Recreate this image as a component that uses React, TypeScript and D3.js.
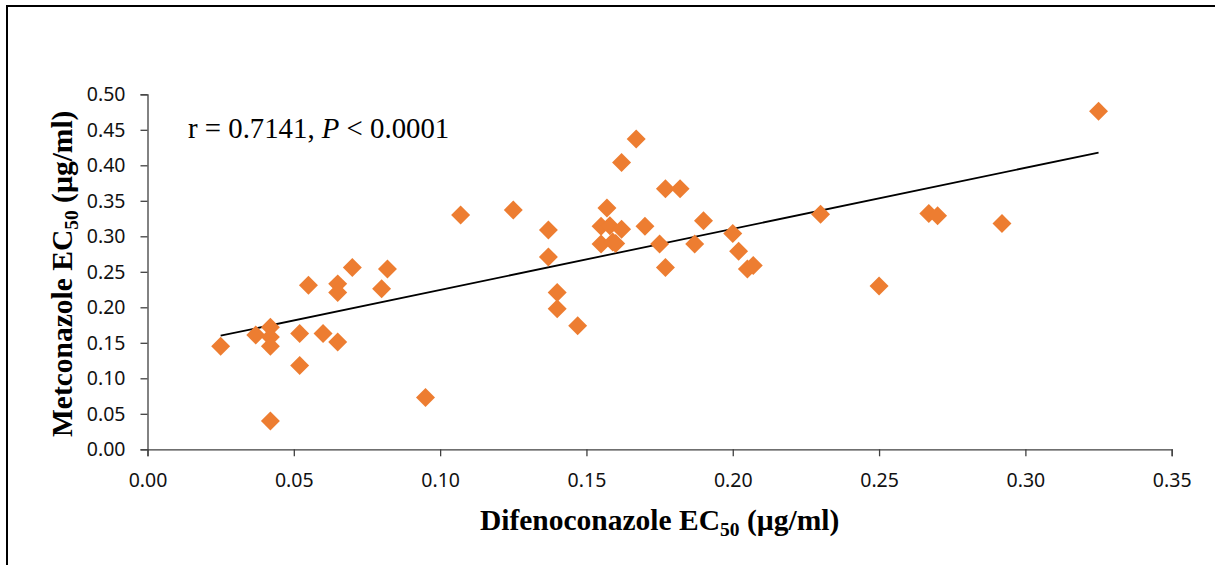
import React, { useEffect, useRef } from 'react';
import * as d3 from 'd3';

// Difenoconazole EC50 (x) vs Metconazole EC50 (y)
const difeno = [
  0.025, 0.037, 0.042, 0.042, 0.042, 0.042, 0.052, 0.052, 0.055, 0.060,
  0.065, 0.065, 0.065, 0.070, 0.080, 0.082, 0.095, 0.107, 0.125, 0.137,
  0.137, 0.140, 0.140, 0.147, 0.155, 0.155, 0.157, 0.158, 0.162, 0.159,
  0.160, 0.162, 0.167, 0.170, 0.175, 0.177, 0.177, 0.182, 0.187, 0.190,
  0.200, 0.202, 0.205, 0.207, 0.230, 0.250, 0.267, 0.270, 0.292, 0.325,
];
const metcon = [
  0.145, 0.161, 0.172, 0.158, 0.145, 0.040, 0.163, 0.118, 0.231, 0.163,
  0.233, 0.221, 0.151, 0.256, 0.226, 0.254, 0.073, 0.330, 0.337, 0.309,
  0.271, 0.221, 0.198, 0.174, 0.314, 0.289, 0.340, 0.315, 0.310, 0.292,
  0.290, 0.404, 0.437, 0.314, 0.289, 0.367, 0.256, 0.367, 0.289, 0.322,
  0.304, 0.279, 0.254, 0.259, 0.331, 0.230, 0.332, 0.329, 0.318, 0.476,
];

// linear trendline (Excel)
const trendSlope = 0.86;
const trendIntercept = 0.1385;

const xTicks = [0, 0.05, 0.1, 0.15, 0.2, 0.25, 0.3, 0.35];
const yTicks = [0, 0.05, 0.1, 0.15, 0.2, 0.25, 0.3, 0.35, 0.4, 0.45, 0.5];

export default function App() {
  const ref = useRef<SVGSVGElement>(null);

  useEffect(() => {
    const svg = d3.select(ref.current);
    svg.selectAll('*').remove();

    const width = 1215, height = 565;
    const margin = { top: 94.3, right: 1215 - 1171.7, bottom: 565 - 449.3, left: 147.5 };

    const x = d3.scaleLinear()
      .domain([0, 0.35])
      .range([margin.left, width - margin.right]);
    const y = d3.scaleLinear()
      .domain([0, 0.5])
      .range([height - margin.bottom, margin.top]);

    // outer frame (runs off the picture on the right and bottom)
    svg.append('rect')
      .attr('x', 7).attr('y', 6)
      .attr('width', 1300).attr('height', 700)
      .attr('fill', 'none')
      .attr('stroke', '#000')
      .attr('stroke-width', 2);

    const styleAxis = (g: any) => {
      g.select('.domain').attr('stroke', '#404040').attr('stroke-width', 1.3);
      g.selectAll('.tick line').attr('stroke', '#404040').attr('stroke-width', 1.3);
      g.selectAll('.tick text')
        .attr('fill', '#111')
        .style('font-family', '"Noto Sans", sans-serif')
        .style('font-size', '19.5px');
    };

    svg.append('g')
      .attr('transform', `translate(0,${y(0)})`)
      .call(d3.axisBottom(x).tickValues(xTicks).tickFormat(d3.format('.2f'))
        .tickSize(7).tickSizeOuter(7).tickPadding(17))
      .call(styleAxis);

    svg.append('g')
      .attr('transform', `translate(${x(0)},0)`)
      .call(d3.axisLeft(y).tickValues(yTicks).tickFormat(d3.format('.2f'))
        .tickSize(7).tickSizeOuter(7).tickPadding(15))
      .call(styleAxis);

    // trendline across the range of the data
    const [x0, x1] = d3.extent(difeno) as [number, number];
    svg.append('line')
      .attr('x1', x(x0)).attr('y1', y(trendSlope * x0 + trendIntercept))
      .attr('x2', x(x1)).attr('y2', y(trendSlope * x1 + trendIntercept))
      .attr('stroke', '#000')
      .attr('stroke-width', 1.8);

    const diamond = d3.symbol().type(d3.symbolSquare).size(180);
    svg.append('g')
      .attr('fill', '#ED7D31')
      .selectAll('path').data(difeno).enter().append('path')
      .attr('d', diamond)
      .attr('transform', (d, i) => `translate(${x(d)},${y(metcon[i])}) rotate(45)`);

    // r and P annotation
    const ann = svg.append('text')
      .attr('x', 188).attr('y', 138)
      .style('font-family', '"Liberation Serif", "Times New Roman", serif')
      .style('font-size', '28.8px')
      .attr('fill', '#000');
    ann.append('tspan').text('r = 0.7141, ');
    ann.append('tspan').style('font-style', 'italic').text('P');
    ann.append('tspan').text(' < 0.0001');

    // axis titles
    const title = (sel: any, name: string) => {
      sel.style('font-family', '"Liberation Serif", "Times New Roman", serif')
        .style('font-size', '29.5px')
        .style('font-weight', 'bold')
        .attr('fill', '#000');
      sel.append('tspan').text(name + ' EC');
      sel.append('tspan').attr('dy', 6).style('font-size', '19.5px').text('50');
      sel.append('tspan').attr('dy', -6).text(' (µg/ml)');
    };

    svg.append('text')
      .attr('x', (x(0) + x(0.35)) / 2).attr('y', 530)
      .attr('text-anchor', 'middle')
      .call(title, 'Difenoconazole');

    svg.append('text')
      .attr('transform', `translate(72,${(y(0) + y(0.5)) / 2 + 2}) rotate(-90)`)
      .attr('text-anchor', 'middle')
      .call(title, 'Metconazole');
  }, []);

  return (
    <svg ref={ref} width={1215} height={565}
      style={{ position: 'absolute', left: 0, top: 0, background: '#fff' }} />
  );
}
